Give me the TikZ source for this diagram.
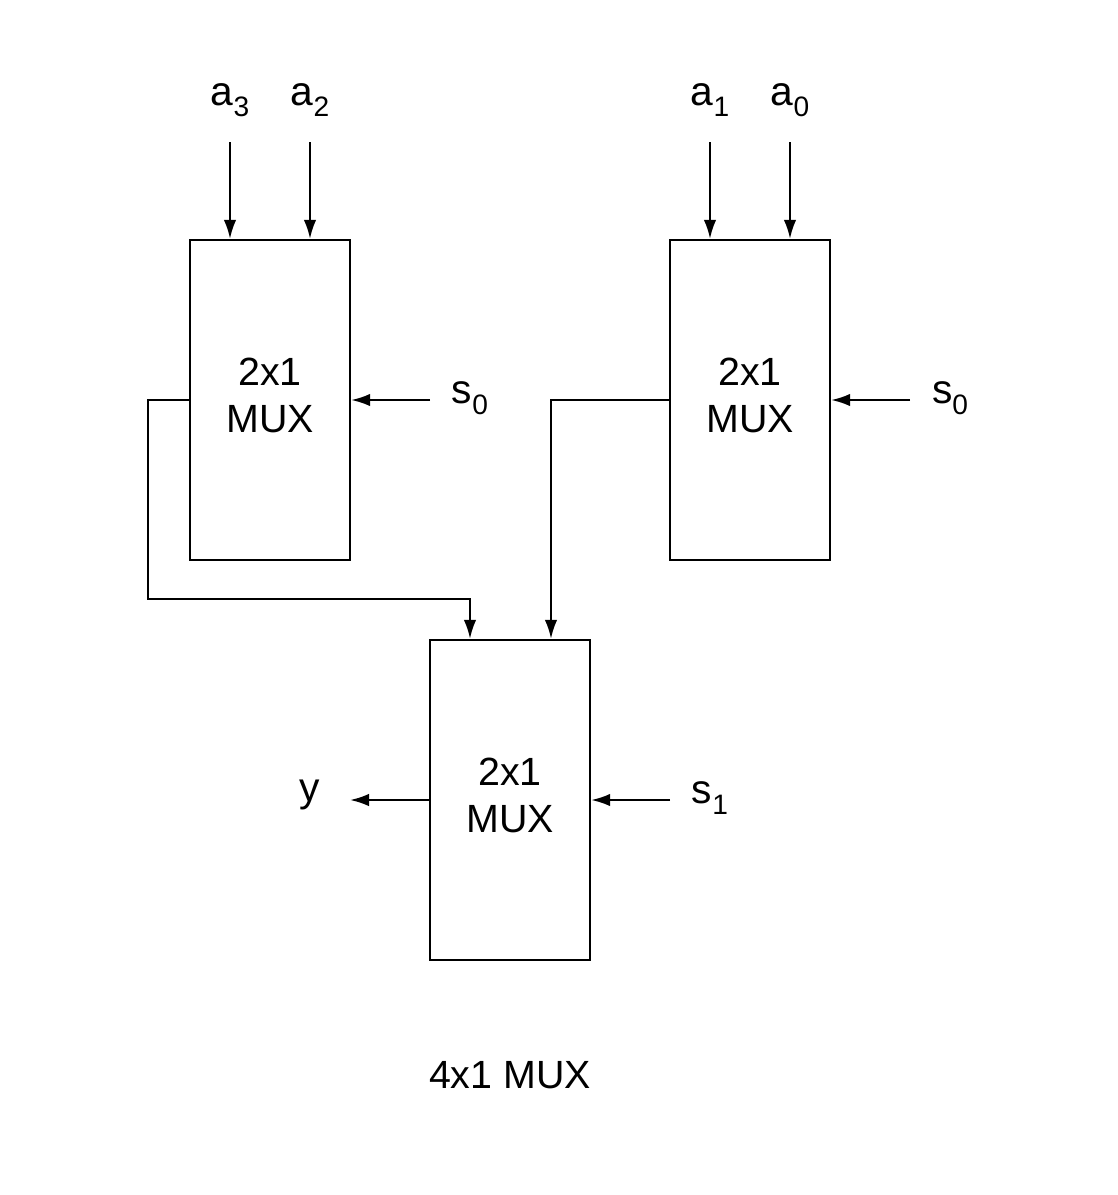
\documentclass[tikz,border=0pt]{standalone}
\usepackage{fontspec}
\setmainfont{Liberation Sans}
\usepackage{tikz}
\usetikzlibrary{arrows.meta, positioning, calc}

\newcommand{\sub}[1]{\raisebox{-0.5ex}{\fontsize{8}{9}\selectfont #1}}

\begin{document}
\begin{tikzpicture}[line width=0.65pt, >={Latex[length=1.9mm, width=1.25mm]},
                    mux/.style={draw, rectangle, minimum width=1.6cm, minimum height=3.2cm},
                    muxtxt/.style={align=center, font=\fontsize{11.2}{13.4}\selectfont},
                    lbl/.style={font=\fontsize{11.6}{13}\selectfont}]
                        \useasboundingbox (0, 0) rectangle (11.17, -11.95);

                        \node[mux] (m1) at (2.7, -4) {};
                        \node[mux] (m2) at (7.5, -4) {};
                        \node[mux] (m3) at (5.1, -8) {};
                        \node[muxtxt] (t1) at (2.7, -3.95) {2x1\\MUX};
                        \node[muxtxt] (t2) at (7.5, -3.95) {2x1\\MUX};
                        \node[muxtxt] (t3) at (5.1, -7.95) {2x1\\MUX};

                        \node[lbl] (a3) at (2.3, -1) {a\sub{3}};
                        \node[lbl] (a2) at (3.1, -1) {a\sub{2}};
                        \node[lbl] (a1) at (7.1, -1) {a\sub{1}};
                        \node[lbl] (a0) at (7.9, -1) {a\sub{0}};
                        \node[lbl] (s0l) at (4.7, -3.98) {s\sub{0}};
                        \node[lbl] (s0r) at (9.5, -3.98) {s\sub{0}};
                        \node[lbl] (s1) at (7.1, -7.98) {s\sub{1}};
                        \node[lbl] (y) at (3.1, -7.95) {y};
                        \node[muxtxt] (cap) at (5.1, -10.75) {4x1 MUX};

                        \coordinate (i3) at (2.3, -1.42);
                        \coordinate (i2) at (3.1, -1.42);
                        \coordinate (i1) at (7.1, -1.42);
                        \coordinate (i0) at (7.9, -1.42);
                        \coordinate (c0l) at (4.3, -4);
                        \coordinate (c0r) at (9.1, -4);
                        \coordinate (c1) at (6.7, -8);
                        \coordinate (out) at (3.5, -8);

                        \draw[->] (i3) -- (i3 |- m1.north);
                        \draw[->] (i2) -- (i2 |- m1.north);
                        \draw[->] (i1) -- (i1 |- m2.north);
                        \draw[->] (i0) -- (i0 |- m2.north);
                        \draw[->] (c0l) -- (m1.east);
                        \draw[->] (c0r) -- (m2.east);
                        \draw[->] (c1) -- (m3.east);
                        \draw[->] (m3.west) -- (out);

                        \draw[->] (m1.west) -- ++(-0.41, 0) |- ($(m3.north) + (-0.4, 0.4)$) -- ([xshift=-0.4cm]m3.north);
                        \draw[->] (m2.west) -| ([xshift=0.41cm]m3.north);
                    \end{tikzpicture}
\end{document}
